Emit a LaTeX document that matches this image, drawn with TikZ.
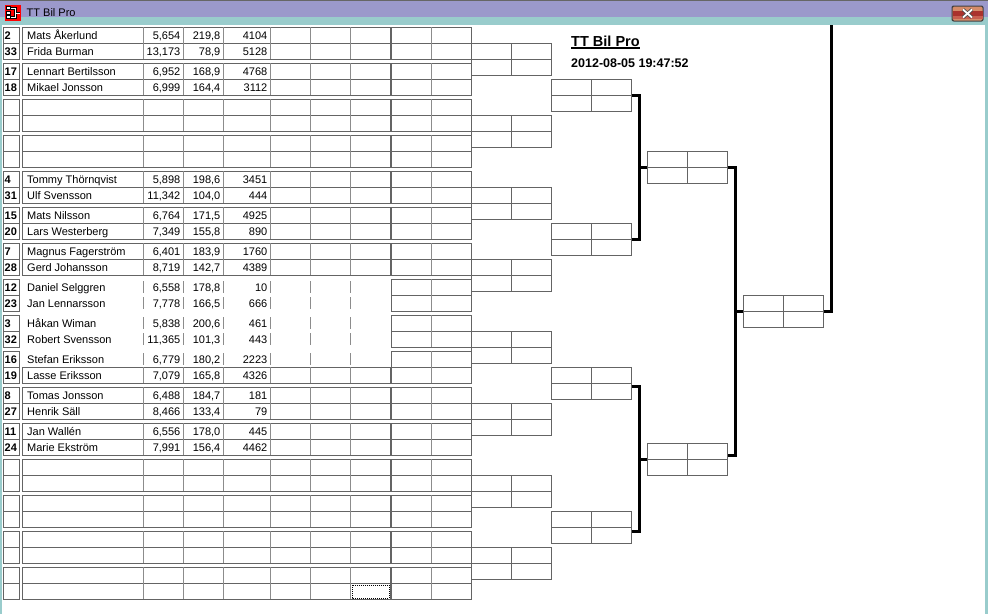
\documentclass[tikz,border=0pt]{standalone}
\usepackage{fontspec}
\setmainfont{Liberation Sans}
\begin{document}
\begin{tikzpicture}[x=1pt,y=-1pt]
				\definecolor{barblue}{RGB}{155,153,203}
				\definecolor{barteal}{RGB}{153,204,204}
				\definecolor{linegray}{RGB}{100,100,100}
				\definecolor{sepgray}{RGB}{140,140,140}
				\definecolor{closetan}{RGB}{214,140,105}
				\definecolor{closered}{RGB}{170,50,45}
				\definecolor{closepink}{RGB}{200,95,80}
				\tikzstyle{Frame} = [draw=linegray, line width=1pt]
				\tikzstyle{Sep} = [draw=sepgray, line width=1pt]
				\tikzstyle{Wire} = [draw=black, line width=3pt, line join=miter]
				\tikzstyle{Match} = [rectangle, draw=linegray, line width=1pt, minimum width=80pt, minimum height=32pt, inner sep=0pt,
					path picture={\draw[linegray, line width=1pt] (path picture bounding box.west) -- (path picture bounding box.east)
						(path picture bounding box.north) -- (path picture bounding box.south);}]
				\tikzstyle{Seed} = [anchor=base west, inner sep=0pt, font=\fontsize{11}{13}\selectfont\bfseries]
				\tikzstyle{Name} = [anchor=base west, inner sep=0pt, font=\fontsize{11}{13}\selectfont]
				\tikzstyle{Num} = [anchor=base east, inner sep=0pt, font=\fontsize{11}{13}\selectfont]
				\useasboundingbox (0,0) rectangle (988,614);
				% window
				\fill[white] (0,0) rectangle (988,614);
				\fill[barblue] (0,0) rectangle (988,17);
				\fill[barteal] (0,17) rectangle (988,25);
				\fill[barteal] (0,25) rectangle (2,614);
				\fill[barteal] (985,17) rectangle (987.5,614);
				\fill[black!80] (987.5,0) rectangle (988,614);
				\fill[black!60] (0,0) rectangle (988,1);
				% icon and title
				\fill[red] (5,5) rectangle (21,21);
				\foreach \j in {0,1,2}
					\draw[black, fill=white, line width=0.8pt] (6.5,{6.5+4.5*\j}) rectangle (10.5,{9.5+4.5*\j});
				\draw[black, line width=2.4pt] (11,8.5) -- (15.5,8.5) -- (15.5,17.5) -- (11,17.5) (15.5,13) -- (20,13);
				\draw[white, line width=1pt] (11,8.5) -- (15.5,8.5) -- (15.5,17.5) -- (11,17.5) (15.5,13) -- (20,13);
				\node (wintitle) at (26.5,16.5) [anchor=base west, inner sep=0pt, font=\fontsize{11}{13}\selectfont] {TT Bil Pro};
				\fill[black!75, rounded corners=2pt] (951.5,5.5) rectangle (983.5,21.5);
				\fill[closetan, rounded corners=1.5pt] (952.5,6.5) rectangle (982.5,20.5);
				\fill[closered] (952.5,11) rectangle (982.5,16);
				\fill[closepink] (952.5,16) rectangle (982.5,19);
				\draw[black!70, line width=3.4pt] (963,9.5) -- (972,17.5) (963,17.5) -- (972,9.5);
				\draw[white, line width=1.8pt] (963,9.5) -- (972,17.5) (963,17.5) -- (972,9.5);
				% table blocks
				\foreach \k in {1,...,16} {
					\pgfmathsetmacro\t{27.3+36*(\k-1)}
					\draw[Frame] (3.5,\t) rectangle (19.5,\t+32) (3.5,\t+16) -- (19.5,\t+16);
					\draw[Frame] (391,\t) rectangle (471,\t+32) (391,\t+16) -- (471,\t+16);
					\draw[Sep] (431,\t) -- (431,\t+32);
				}
				\foreach \k in {1,2,3,4,5,6,7,11,12,13,14,15,16} {
					\pgfmathsetmacro\t{27.3+36*(\k-1)}
					\draw[Frame] (22.5,\t) rectangle (390,\t+32) (22.5,\t+16) -- (390,\t+16);
					\foreach \c in {143,183,223,270.5,310.5,350.5}
						\draw[Sep] (\c,\t) -- (\c,\t+32);
				}
				\foreach \k/\i in {8/0,8/1,9/0,9/1,10/0} {
					\pgfmathsetmacro\t{27.3+36*(\k-1)+16*\i}
					\foreach \c in {143,183,223,270.5,310.5,350.5}
						\draw[Sep] (\c,\t+2) -- (\c,\t+14);
				}
				\draw[Frame] (22.5,367.3) rectangle (390,383.3);
				\foreach \c in {143,183,223,270.5,310.5,350.5}
					\draw[Sep] (\c,367.3) -- (\c,383.3);
				\draw[black, densely dotted, line width=1pt] (352,585) rectangle (389,598);
				% players
				\foreach \k/\i/\seed/\name/\tm/\sp/\pt in {
					1/0/2/Mats Åkerlund/{5,654}/{219,8}/4104,
					1/1/33/Frida Burman/{13,173}/{78,9}/5128,
					2/0/17/Lennart Bertilsson/{6,952}/{168,9}/4768,
					2/1/18/Mikael Jonsson/{6,999}/{164,4}/3112,
					5/0/4/Tommy Thörnqvist/{5,898}/{198,6}/3451,
					5/1/31/Ulf Svensson/{11,342}/{104,0}/444,
					6/0/15/Mats Nilsson/{6,764}/{171,5}/4925,
					6/1/20/Lars Westerberg/{7,349}/{155,8}/890,
					7/0/7/Magnus Fagerström/{6,401}/{183,9}/1760,
					7/1/28/Gerd Johansson/{8,719}/{142,7}/4389,
					8/0/12/Daniel Selggren/{6,558}/{178,8}/10,
					8/1/23/Jan Lennarsson/{7,778}/{166,5}/666,
					9/0/3/Håkan Wiman/{5,838}/{200,6}/461,
					9/1/32/Robert Svensson/{11,365}/{101,3}/443,
					10/0/16/Stefan Eriksson/{6,779}/{180,2}/2223,
					10/1/19/Lasse Eriksson/{7,079}/{165,8}/4326,
					11/0/8/Tomas Jonsson/{6,488}/{184,7}/181,
					11/1/27/Henrik Säll/{8,466}/{133,4}/79,
					12/0/11/Jan Wallén/{6,556}/{178,0}/445,
					12/1/24/Marie Ekström/{7,991}/{156,4}/4462} {
					\pgfmathsetmacro\yb{27.3+36*(\k-1)+16*\i+12.5}
					\node (seed-\k-\i) at (4.5,\yb) [Seed] {\seed};
					\node (name-\k-\i) at (27,\yb) [Name] {\name};
					\node (time-\k-\i) at (180.5,\yb) [Num] {\tm};
					\node (speed-\k-\i) at (220.5,\yb) [Num] {\sp};
					\node (pts-\k-\i) at (267.5,\yb) [Num] {\pt};
				}
				% bracket
				\foreach \m in {1,...,8}
					\node (ra\m) at (511,{59.3+72*(\m-1)}) [Match] {};
				\node (rb1) at (591,95.3) [Match] {};
				\node (rb2) at (591,239.3) [Match] {};
				\node (rb3) at (591,383.3) [Match] {};
				\node (rb4) at (591,527.3) [Match] {};
				\node (rc1) at (687,167.3) [Match] {};
				\node (rc2) at (687,459.3) [Match] {};
				\node (fin) at (783,311.3) [Match] {};
				\coordinate (forkA) at (639,0);
				\coordinate (forkB) at (735,0);
				\coordinate (forkC) at (831,25);
				\coordinate (inC) at ([yshift=-3pt]rb3.east);
				\coordinate (inD) at ([yshift=-3.7pt]rb4.east);
				\coordinate (outB) at ([yshift=4pt]rc2.east);
				\draw[Wire] (rb1.east) -| (forkA |- rb2.east) -- (rb2.east);
				\draw[Wire] (forkA |- rc1.west) -- (rc1.west);
				\draw[Wire] (inC) -| (forkA |- inD) -- (inD);
				\draw[Wire] (forkA |- rc2.west) -- (rc2.west);
				\draw[Wire] (rc1.east) -| (forkB |- outB) -- (outB);
				\draw[Wire] (forkB |- fin.west) -- (fin.west);
				\draw[Wire] (fin.east) -| (forkC);
				% heading
				\node (heading) at (571,46.7) [anchor=base west, inner sep=0pt, font=\fontsize{14.5}{16}\selectfont\bfseries] {TT Bil Pro};
				\draw[line width=1.2pt] ([yshift=-1.3pt]heading.base west) -- ([yshift=-1.3pt]heading.base east);
				\node (stamp) at (571,67.7) [anchor=base west, inner sep=0pt, font=\fontsize{12.5}{14}\selectfont\bfseries] {2012-08-05 19:47:52};
			\end{tikzpicture}
\end{document}
